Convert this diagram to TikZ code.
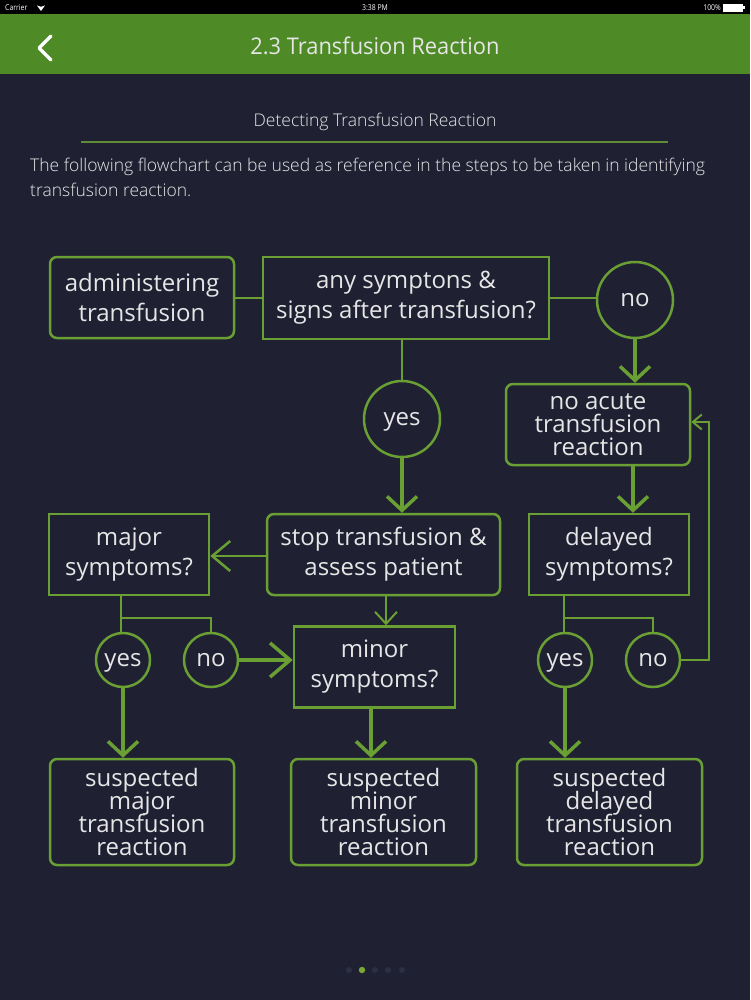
\documentclass[tikz,border=0pt]{standalone}
\usepackage{fontspec}
\setmainfont{Open Sans}
\newfontfamily\condfont[FakeStretch=0.86]{Open Sans}
\newfontfamily\titlefont[FakeStretch=0.95]{Open Sans}
\newfontfamily\lightfont{Open Sans Light}
\newcommand\fcboxfont{\fontsize{24}{23}\selectfont\lineskiplimit=-20pt\relax}
\newcommand\fctwofont{\fontsize{24}{30}\selectfont\lineskiplimit=-20pt\relax}
\usetikzlibrary{arrows.meta}
\definecolor{bgnavy}{HTML}{1F2133}
\definecolor{hdrgreen}{HTML}{4E8A26}
\definecolor{lgreen}{HTML}{6A9F34}
\definecolor{txt}{HTML}{E6E6E6}
\definecolor{dotgrey}{HTML}{2C2F42}
\tikzset{
  box/.style={draw=lgreen, line width=2.5pt, fill=bgnavy, text=txt, align=center, inner sep=0pt, font=\fcboxfont},
  twoline/.style={font=\fctwofont},
  rbox/.style={box, rounded corners=7pt},
  sbox/.style={box},
  ring/.style={circle, draw=lgreen, line width=2.5pt, fill=bgnavy, text=txt, inner sep=0pt, text height=13pt, text depth=0pt, font=\fontsize{24}{23}\selectfont},
  thinline/.style={draw=lgreen, line width=2pt},
  thickarrow/.style={draw=lgreen, line width=3.5pt, -{Straight Barb[length=14pt, width=30pt, line width=3.5pt]}},
  widearrow/.style={draw=lgreen, line width=3.5pt, -{Straight Barb[length=20pt, width=34pt, line width=3.5pt]}},
  thinarrow/.style={draw=lgreen, line width=2.5pt, -{Straight Barb[length=18pt, width=30pt, line width=2.5pt]}},
  midarrow/.style={draw=lgreen, line width=2pt, -{Straight Barb[length=12pt, width=22pt, line width=2pt]}},
  smallarrow/.style={draw=lgreen, line width=2pt, -{Straight Barb[length=9pt, width=15pt, line width=2pt]}},
}
\begin{document}
\begin{tikzpicture}[x=1pt,y=-1pt]
\useasboundingbox (0,0) rectangle (750,1000);
\fill[bgnavy] (0,0) rectangle (750,1000);
% status bar
\fill[black] (0,0) rectangle (750,14);
\node[text=white, anchor=west, inner sep=0pt, font=\condfont\fontsize{8}{8}\selectfont] (carrier) at (5,7.5) {Carrier};
\fill[white] (41,11) -- ++(-4,-5.5) arc[start angle=127, end angle=53, radius=6.6] -- cycle;
\node[text=white, inner sep=0pt, font=\condfont\fontsize{8}{8}\selectfont] (clock) at (375,7.5) {3:38 PM};
\node[text=white, anchor=east, inner sep=0pt, font=\condfont\fontsize{8}{8}\selectfont] (batt) at (721,7.5) {100\%};
\draw[white, line width=0.8pt, fill=white] (723,4) rectangle (742,11);
\fill[white] (743,6) rectangle (744.5,9);
% header
\fill[hdrgreen] (0,14) rectangle (750,74);
\draw[white, line width=3.5pt, line cap=round, line join=round] (51,36) -- (39,48) -- (51,60);
\node[text=txt, inner sep=0pt, font=\titlefont\fontsize{23}{23}\selectfont] (title) at (375,46) {2.3 Transfusion Reaction};
% subtitle
\node[text=txt, inner sep=0pt, font=\lightfont\fontsize{17.5}{17.5}\selectfont] (sub) at (375,122) {Detecting Transfusion Reaction};
\draw[lgreen!85!bgnavy, line width=1.5pt] (81,142) -- (668,142);
\node[text=txt, anchor=north west, inner sep=0pt, align=left, font=\lightfont\fontsize{17.5}{25}\selectfont] (para) at (30,158) {The following flowchart can be used as reference in the steps to be taken in identifying\\transfusion reaction.};
% page dots
\foreach \x in {349,375,388,402} \fill[dotgrey] (\x,970) circle (3);
\fill[lgreen!90!yellow] (362,970) circle (3.2);

% flowchart nodes
\node[rbox, twoline, minimum width=184pt, minimum height=81pt] (admin) at (142,297.5) {administering\\transfusion};
\node[sbox, twoline, minimum width=286pt, minimum height=82pt] (any) at (406,298) {any symptons \&\\signs after transfusion?};
\node[ring, minimum size=76pt] (no1) at (635,300) {no};
\node[ring, minimum size=76pt] (yes1) at (402,419) {yes};
\node[rbox, minimum width=184pt, minimum height=81pt] (noacute) at (598,424.5) {no acute\\transfusion\\reaction};
\node[rbox, twoline, minimum width=233pt, minimum height=81pt] (stop) at (383.5,554.5) {stop transfusion \&\\assess patient};
\node[sbox, twoline, minimum width=160pt, minimum height=81pt] (major) at (129,554.5) {major\\symptoms?};
\node[sbox, twoline, minimum width=160pt, minimum height=81pt] (delayed) at (609,554.5) {delayed\\symptoms?};
\node[sbox, twoline, minimum width=161pt, minimum height=81pt] (minor) at (374.5,667) {minor\\symptoms?};
\node[ring, minimum size=54pt] (yes2) at (123,660) {yes};
\node[ring, minimum size=54pt] (no2) at (211,660) {no};
\node[ring, minimum size=54pt] (yes3) at (565,660) {yes};
\node[ring, minimum size=54pt] (no3) at (653,660) {no};
\node[rbox, minimum width=184pt, minimum height=106pt] (smajor) at (142,812) {suspected\\major\\transfusion\\reaction};
\node[rbox, minimum width=185pt, minimum height=106pt] (sminor) at (383.5,812) {suspected\\minor\\transfusion\\reaction};
\node[rbox, minimum width=185pt, minimum height=106pt] (sdelayed) at (609.5,812) {suspected\\delayed\\transfusion\\reaction};

% connectors
\coordinate (jm) at (121,618);
\coordinate (jd) at (564,618);
\coordinate (loop) at (709,660);
\draw[thinline] (admin.east |- 0,298) -- (any.west |- 0,298);
\draw[thinline] (any.east |- 0,298) -- (no1.west |- 0,298);
\draw[thinline] (any.south -| yes1.north) -- (yes1.north);
\draw[thinline] (major.south -| jm) -- (jm) -- (jm -| no2.north) -- (no2.north);
\draw[thinline] (jm) -- (jm |- yes2.north);
\draw[thinline] (delayed.south -| jd) -- (jd) -- (jd -| no3.north) -- (no3.north);
\draw[thinline] (jd) -- (jd |- yes3.north);
\draw[thickarrow] (no1.south) -- (no1.south |- noacute.north);
\draw[thickarrow] (yes1.south) -- (yes1.south |- stop.north);
\draw[thinarrow] (stop.west |- 0,556) -- (major.east |- 0,556);
\draw[midarrow] (stop.south -| 386,0) -- (minor.north -| 386,0);
\draw[widearrow] (no2.east) -- (minor.west |- no2.east);
\draw[thickarrow] (yes2.south) -- (yes2.south |- smajor.north);
\draw[thickarrow] (minor.south -| 371,0) -- (smajor.north -| 371,0);
\draw[thickarrow] (noacute.south -| 633,0) -- (delayed.north -| 633,0);
\draw[thickarrow] (yes3.south) -- (yes3.south |- sdelayed.north);
\draw[smallarrow] (no3.east) -- (loop) -- (loop |- 0,422) -- (noacute.east |- 0,422);
\end{tikzpicture}
\end{document}
